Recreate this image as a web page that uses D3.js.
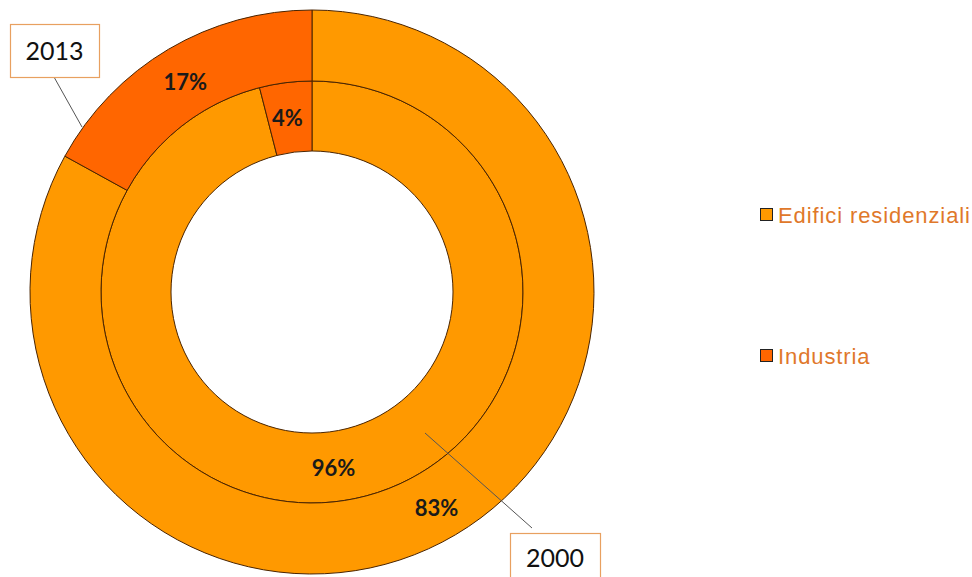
<!DOCTYPE html>
<html>
<head>
<meta charset="utf-8">
<script src="https://cdn.jsdelivr.net/npm/d3@7/dist/d3.min.js"></script>
<style>
  body { margin: 0; background: #fff; }
  svg { display: block; }
  .pct { font-family: Lato, "Open Sans", sans-serif; font-weight: bold; font-size: 22px; fill: #1a1a1a; }
  .callout { font-family: Lato, "Open Sans", sans-serif; font-size: 25px; fill: #111; }
  .legendText { font-family: "Liberation Sans", Arial, sans-serif; font-size: 22px; letter-spacing: 0.9px; fill: #e0782a; }
</style>
</head>
<body>
<div id="chart"></div>
<script>
// categories (legend order)
var categories = ["Edifici residenziali", "Industria"];
// rings, from inside to outside
var years = ["2000", "2013"];
// share per category, one array per year
var values2000 = [96, 4];
var values2013 = [83, 17];

var width = 972;
var height = 577;
var cx = 312;
var cy = 292;
var rHole = 141;
var rMid = 211;
var rOuter = 282;

var color = d3.scaleOrdinal()
    .domain(categories)
    .range(["#ff9900", "#ff6600"]);

var svg = d3.select("#chart").append("svg")
    .attr("width", width)
    .attr("height", height);

var pie = d3.pie().sort(null).value(function (d) { return d.v; });

var rings = [
    { year: years[0], values: values2000, r0: rHole, r1: rMid },
    { year: years[1], values: values2013, r0: rMid, r1: rOuter }
];

var chartWrap = svg.append("g").attr("transform", "translate(" + cx + "," + cy + ")");

rings.forEach(function (ring) {
    var data = categories.map(function (c, i) { return { cat: c, v: ring.values[i] }; });
    var arc = d3.arc().innerRadius(ring.r0).outerRadius(ring.r1);

    chartWrap.append("g").selectAll("path")
        .data(pie(data))
        .enter()
        .append("path")
        .attr("d", arc)
        .attr("fill", function (d) { return color(d.data.cat); })
        .attr("stroke", "#4a2400")
        .attr("stroke-width", 1);
});

// percent labels, placed by radius/angle inside each slice
var labelPos = [
    { ring: 0, idx: 0, r: 177, a: 173 },
    { ring: 0, idx: 1, r: 176, a: -8 },
    { ring: 1, idx: 0, r: 249, a: 150 },
    { ring: 1, idx: 1, r: 246, a: -31 }
];
labelPos.forEach(function (p) {
    var ring = rings[p.ring];
    var rad = p.a * Math.PI / 180;
    chartWrap.append("text")
        .attr("class", "pct")
        .attr("text-anchor", "middle")
        .attr("dominant-baseline", "central")
        .attr("x", p.r * Math.sin(rad))
        .attr("y", -p.r * Math.cos(rad))
        .text(ring.values[p.idx] + "%");
});

// callouts for each ring
var callouts = [
    { year: years[1], box: [10, 24, 89, 53], from: [54, 77], to: [82, 127] },
    { year: years[0], box: [510, 533, 90, 50], from: [532, 528], to: [425, 433] }
];
callouts.forEach(function (c) {
    svg.append("line")
        .attr("x1", c.from[0]).attr("y1", c.from[1])
        .attr("x2", c.to[0]).attr("y2", c.to[1])
        .attr("stroke", "#555")
        .attr("stroke-width", 1);
    svg.append("rect")
        .attr("x", c.box[0] + 0.5).attr("y", c.box[1] + 0.5)
        .attr("width", c.box[2]).attr("height", c.box[3])
        .attr("fill", "#fff")
        .attr("stroke", "#e8a060")
        .attr("stroke-width", 1.2);
    svg.append("text")
        .attr("class", "callout")
        .attr("text-anchor", "middle")
        .attr("x", c.box[0] + c.box[2] / 2)
        .attr("y", c.box[1] + c.box[3] / 2 + 9)
        .text(c.year);
});

// legend
var legendY = d3.scalePoint().domain(categories).range([215, 356]);
var legend = svg.append("g").selectAll("g")
    .data(categories)
    .enter()
    .append("g")
    .attr("transform", function (d) { return "translate(760," + legendY(d) + ")"; });

legend.append("rect")
    .attr("x", 0.5).attr("y", -6.5)
    .attr("width", 12).attr("height", 12)
    .attr("fill", function (d) { return color(d); })
    .attr("stroke", "#222")
    .attr("stroke-width", 1);

legend.append("text")
    .attr("class", "legendText")
    .attr("x", 18)
    .attr("y", 8)
    .text(function (d) { return d; });
</script>
</body>
</html>
